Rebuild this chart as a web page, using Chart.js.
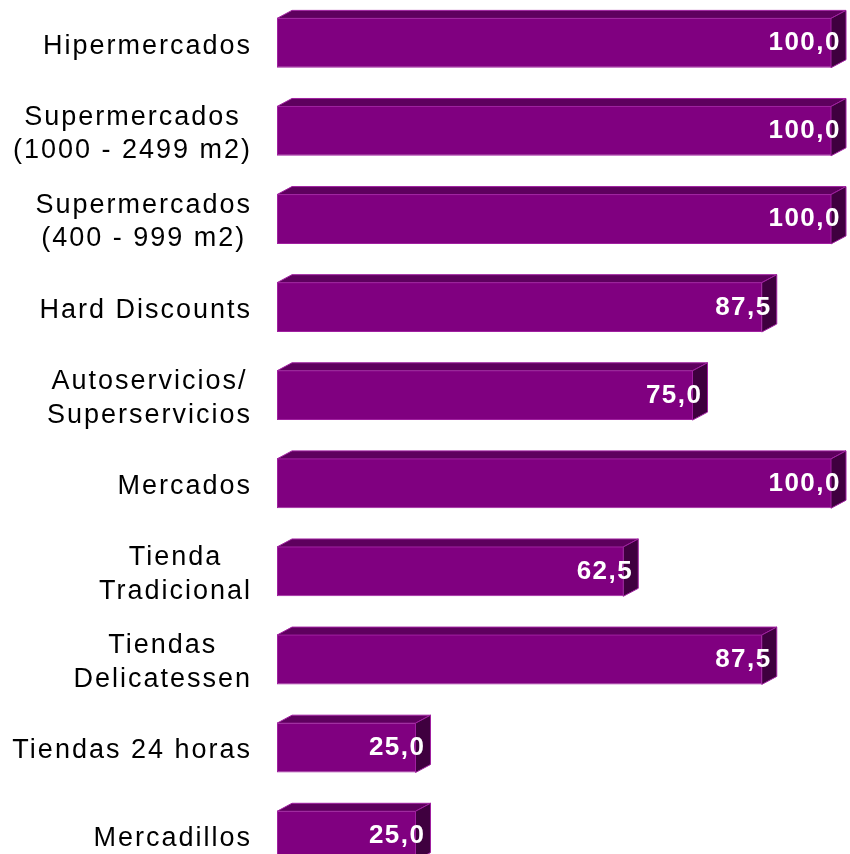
<!DOCTYPE html>
<html>
<head>
<meta charset="utf-8">
<script src="https://cdn.jsdelivr.net/npm/chart.js@4/dist/chart.umd.min.js"></script>
<style>
  html, body { margin: 0; padding: 0; background: #fff; overflow: hidden; }
  #wrap { position: absolute; left: 0; top: -1px; width: 850px; height: 881px; }
</style>
</head>
<body>
<div id="wrap"><canvas id="chart"></canvas></div>
<script>
const categories = [
  'Hipermercados',
  ['Supermercados', '(1000 - 2499 m2)'],
  ['Supermercados', '(400 - 999 m2)'],
  'Hard Discounts',
  ['Autoservicios/', 'Superservicios'],
  'Mercados',
  ['Tienda', 'Tradicional'],
  ['Tiendas', 'Delicatessen'],
  'Tiendas 24 horas',
  'Mercadillos',
];
const values = [100, 100, 100, 87.5, 75, 100, 62.5, 87.5, 25, 25];

const FONT = '"Liberation Sans", Arial, sans-serif';
const depth = { x: 15, y: 8 };
const faces = {
  front: '#800080',
  top: '#5e005e',
  side: '#3f003f',
  edge: '#a020a0',
};

function formatValue(v) {
  return v.toFixed(1).replace('.', ',');
}

// category names, right-aligned block with lines centred on each other
const categoryLabels = {
  id: 'categoryLabels',
  afterDraw(chart) {
    const ctx = chart.ctx;
    const yScale = chart.scales.y;
    const spacing = 2;
    const lineHeight = 33.5;
    const rightEdge = yScale.right - 27;
    ctx.save();
    ctx.font = `27px ${FONT}`;
    ctx.letterSpacing = spacing + 'px';
    ctx.fillStyle = '#000';
    ctx.textAlign = 'center';
    ctx.textBaseline = 'middle';
    categories.forEach((label, i) => {
      const lines = Array.isArray(label) ? label : [label];
      const widths = lines.map(l => ctx.measureText(l).width - spacing);
      const blockWidth = Math.max(...widths);
      const cx = rightEdge - blockWidth / 2 + spacing / 2;
      const cy = yScale.getPixelForValue(i) + 3;
      lines.forEach((line, k) => {
        ctx.fillText(line, cx, cy + (k - (lines.length - 1) / 2) * lineHeight);
      });
    });
    ctx.restore();
  },
};

// top and side faces for the extruded look, then the value on each bar
const bar3d = {
  id: 'bar3d',
  afterDatasetsDraw(chart) {
    const ctx = chart.ctx;
    const meta = chart.getDatasetMeta(0);
    ctx.save();
    ctx.lineWidth = 1;
    ctx.strokeStyle = faces.edge;
    meta.data.forEach((bar, i) => {
      const { x, y, base, height } = bar.getProps(['x', 'y', 'base', 'height'], true);
      const top = y - height / 2;
      const bottom = y + height / 2;

      ctx.beginPath();
      ctx.moveTo(base, top);
      ctx.lineTo(base + depth.x, top - depth.y);
      ctx.lineTo(x + depth.x, top - depth.y);
      ctx.lineTo(x, top);
      ctx.closePath();
      ctx.fillStyle = faces.top;
      ctx.fill();
      ctx.stroke();

      ctx.beginPath();
      ctx.moveTo(x, top);
      ctx.lineTo(x + depth.x, top - depth.y);
      ctx.lineTo(x + depth.x, bottom - depth.y);
      ctx.lineTo(x, bottom);
      ctx.closePath();
      ctx.fillStyle = faces.side;
      ctx.fill();
      ctx.stroke();

      ctx.font = `bold 26px ${FONT}`;
      ctx.letterSpacing = '1.5px';
      ctx.fillStyle = '#fff';
      ctx.textAlign = 'right';
      ctx.textBaseline = 'middle';
      ctx.fillText(formatValue(values[i]), x + 10, y);
      ctx.letterSpacing = '0px';
    });
    ctx.restore();
  },
};

new Chart(document.getElementById('chart'), {
  type: 'bar',
  data: {
    labels: categories,
    datasets: [{
      data: values,
      backgroundColor: faces.front,
      borderColor: faces.edge,
      borderWidth: { left: 1, bottom: 1, top: 0, right: 0 },
      borderSkipped: false,
      barPercentage: 0.56,
      categoryPercentage: 1,
    }],
  },
  options: {
    indexAxis: 'y',
    responsive: true,
    maintainAspectRatio: false,
    animation: false,
    layout: { padding: { left: 0, right: 19, top: 0, bottom: 0 } },
    scales: {
      x: { display: false, min: 0, max: 100 },
      y: {
        grid: { display: false, drawTicks: false },
        border: { display: false },
        ticks: { display: false },
        afterFit(scale) { scale.width = 277; },
      },
    },
    plugins: {
      legend: { display: false },
      tooltip: { enabled: false },
    },
  },
  plugins: [bar3d, categoryLabels],
});
</script>
</body>
</html>
